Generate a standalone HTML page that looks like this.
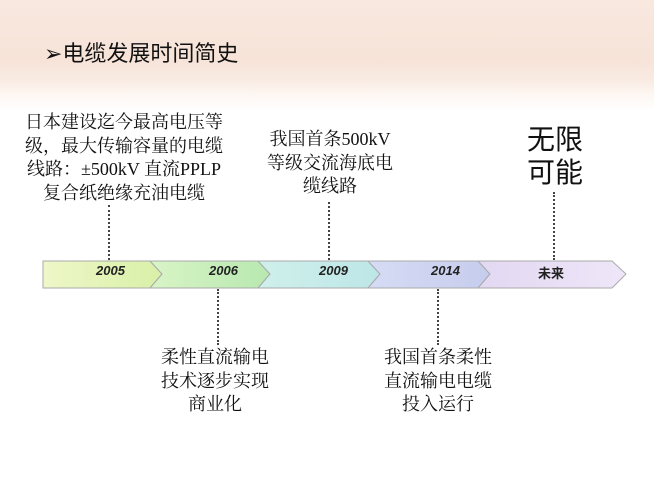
<!DOCTYPE html>
<html><head><meta charset="utf-8"><style>
body{margin:0;width:654px;height:492px;overflow:hidden;font-family:"Liberation Serif","Noto Serif CJK SC",serif;
background:linear-gradient(180deg,#f8e8df 0,#f7e3d8 60px,#f9ebe2 80px,#fdf7f3 95px,#fff 110px,#fff 100%);position:relative}
.t{position:absolute;color:#111;font-size:18px;line-height:23.5px;text-align:center;white-space:nowrap}
.d{position:absolute;border-left:2px dotted #444;width:0}
.y{position:absolute;top:263px;font:italic bold 13px "Liberation Sans",sans-serif;color:#222}
</style></head><body>
<div style="position:absolute;left:44px;top:36px;font:22px 'Liberation Sans','Noto Sans CJK SC',sans-serif;color:#111">➢电缆发展时间简史</div>
<div class="t" style="left:14px;top:111px;width:220px">日本建设迄今最高电压等<br>级，最大传输容量的电缆<br>线路：±500kV 直流PPLP<br>复合纸绝缘充油电缆</div>
<div class="t" style="left:250px;top:128px;width:160px">我国首条500kV<br>等级交流海底电<br>缆线路</div>
<div class="t" style="left:515px;top:122px;width:80px;font-size:28px;line-height:33px;font-family:'Noto Sans CJK SC',sans-serif">无限<br>可能</div>
<div class="t" style="left:150px;top:346px;width:130px">柔性直流输电<br>技术逐步实现<br>商业化</div>
<div class="t" style="left:373px;top:346px;width:130px">我国首条柔性<br>直流输电电缆<br>投入运行</div>
<div class="d" style="left:108px;top:205px;height:55px"></div>
<div class="d" style="left:328px;top:202px;height:58px"></div>
<div class="d" style="left:553px;top:192px;height:68px"></div>
<div class="d" style="left:217px;top:289px;height:56px"></div>
<div class="d" style="left:437px;top:289px;height:56px"></div>
<svg style="position:absolute;left:0;top:0" width="654" height="492">
<defs>
<linearGradient id="g1"><stop offset="0" stop-color="#eef7c8"/><stop offset="1" stop-color="#d9f0a8"/></linearGradient>
<linearGradient id="g2"><stop offset="0" stop-color="#d8f4c6"/><stop offset="1" stop-color="#b8e8b0"/></linearGradient>
<linearGradient id="g3"><stop offset="0" stop-color="#cff0ea"/><stop offset="1" stop-color="#bde6e8"/></linearGradient>
<linearGradient id="g4"><stop offset="0" stop-color="#d6dcf4"/><stop offset="1" stop-color="#c6ccec"/></linearGradient>
<linearGradient id="g5"><stop offset="0" stop-color="#e2d8f2"/><stop offset="1" stop-color="#eee6f8"/></linearGradient>
</defs>
<g stroke="#aaa" stroke-width="1">
<polygon points="43,261 150,261 162,274 150,288 43,288" fill="url(#g1)"/>
<polygon points="150,261 258,261 270,274 258,288 150,288 162,274" fill="url(#g2)"/>
<polygon points="258,261 368,261 380,274 368,288 258,288 270,274" fill="url(#g3)"/>
<polygon points="368,261 478,261 490,274 478,288 368,288 380,274" fill="url(#g4)"/>
<polygon points="478,261 612,261 626,274 612,288 478,288 490,274" fill="url(#g5)"/>
</g></svg>
<div class="y" style="left:96px">2005</div>
<div class="y" style="left:209px">2006</div>
<div class="y" style="left:319px">2009</div>
<div class="y" style="left:431px">2014</div>
<div class="y" style="left:538px;font-family:'Noto Sans CJK SC',sans-serif;font-style:normal">未来</div>
</body></html>
